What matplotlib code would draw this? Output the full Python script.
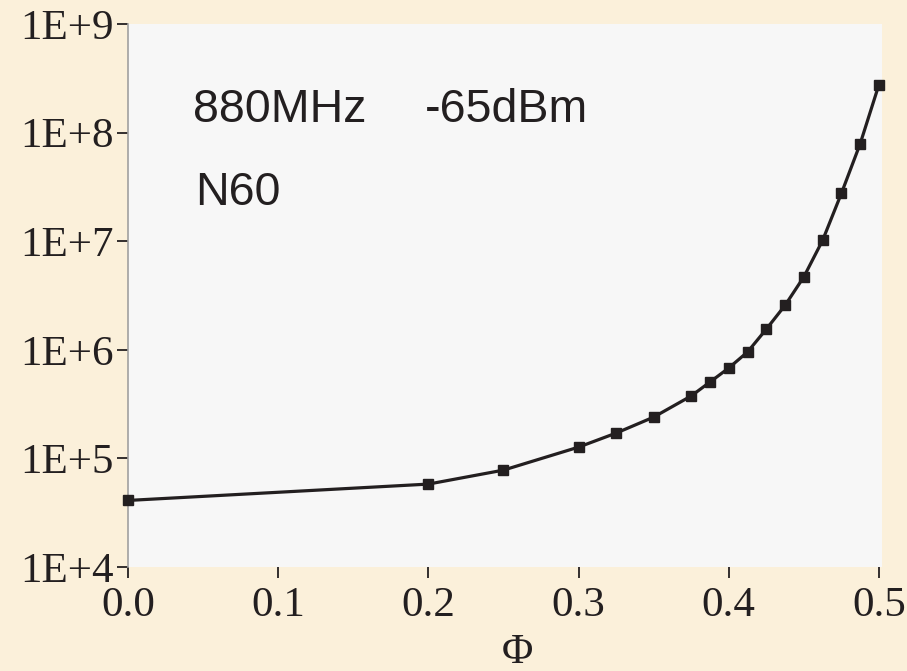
import math
import matplotlib
matplotlib.use('Agg')
import matplotlib.pyplot as plt
from matplotlib.ticker import FixedLocator, FuncFormatter

# phase values and corresponding response
phi = [0.0, 0.2, 0.25, 0.3, 0.325, 0.35, 0.375, 0.3875, 0.4, 0.4125,
       0.425, 0.4375, 0.45, 0.4625, 0.475, 0.4875, 0.5]
vals = [4.1e4, 5.8e4, 7.8e4, 1.27e5, 1.71e5, 2.4e5, 3.76e5, 5.05e5, 6.8e5, 9.55e5,
        1.55e6, 2.57e6, 4.7e6, 1.02e7, 2.76e7, 7.9e7, 2.77e8]

x_ticks = [0.0, 0.1, 0.2, 0.3, 0.4, 0.5]
y_ticks = [1e4, 1e5, 1e6, 1e7, 1e8, 1e9]

bg = '#fbf0da'
ink = '#231f20'
W, H = 907, 671

fig = plt.figure(figsize=(W / 100, H / 100), dpi=100, facecolor=bg)
ax = fig.add_axes([0.1411, 0.155, 0.8313, 0.8092])
ax.set_facecolor('#f7f7f7')

ax.plot(phi, vals, color=ink, linewidth=2.3, marker='s', markersize=7,
        markerfacecolor=ink, markeredgecolor=ink, clip_on=False, zorder=3)

ax.set_yscale('log')
ax.set_xlim(0, 0.502)
ax.set_ylim(1e4, 1e9)

ax.yaxis.set_major_locator(FixedLocator(y_ticks))
ax.yaxis.set_minor_locator(FixedLocator([]))
ax.yaxis.set_major_formatter(FuncFormatter(lambda v, p: '1E+%d' % round(math.log10(v))))
ax.xaxis.set_major_locator(FixedLocator(x_ticks))
ax.xaxis.set_major_formatter(FuncFormatter(lambda v, p: '%.1f' % v))

for s in ['top', 'right', 'bottom']:
    ax.spines[s].set_visible(False)
ax.spines['left'].set_color('#a0a0a0')
ax.spines['left'].set_linewidth(1.2)

ax.tick_params(axis='both', direction='out', length=8, width=1.3, color=ink,
               labelcolor=ink)
ax.tick_params(axis='y', pad=2)
ax.tick_params(axis='x', pad=6)
for lab in ax.get_xticklabels() + ax.get_yticklabels():
    lab.set_fontfamily('Liberation Serif')
    lab.set_fontsize(31)

ax.set_xlabel('Φ', fontfamily='Liberation Serif', fontsize=31, color=ink)
ax.xaxis.set_label_coords((517 - 128) / (882 - 128), -0.123)

txt = dict(fontfamily='Liberation Sans', fontsize=33.5, color=ink, va='baseline')
fig.text(193 / W, 1 - 122 / H, '880MHz', **txt)
fig.text(425 / W, 1 - 122 / H, '-65dBm', **txt)
fig.text(195 / W, 1 - 205 / H, 'N60', **txt)

fig.savefig('out.png', dpi=100, facecolor=bg)
